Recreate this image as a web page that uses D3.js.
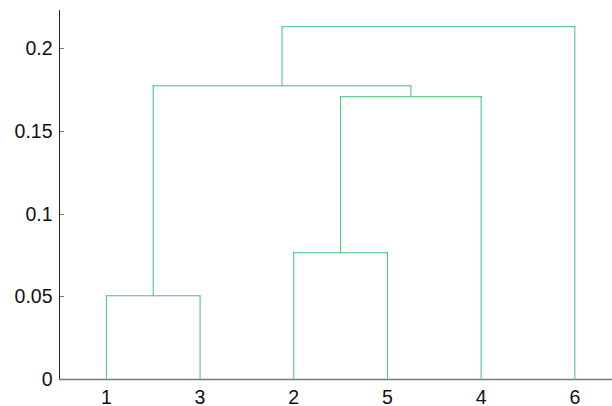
<!DOCTYPE html>
<html>
<head>
<meta charset="utf-8">
<script src="https://cdn.jsdelivr.net/npm/d3@7"></script>
<style>
  body { margin: 0; background: #fff; }
  svg { display: block; font-family: "Liberation Sans", Arial, sans-serif; }
</style>
</head>
<body>
<div id="chart"></div>
<script>
// leaf order along the x axis
const leafOrder = [1, 3, 2, 5, 4, 6];
// linkage rows: [left node, right node, height]; merged nodes are numbered 7, 8, ...
const linkLeft = [1, 2, 8, 7, 10];
const linkRight = [3, 5, 4, 9, 6];
const linkHeight = [0.0503, 0.0763, 0.1706, 0.1772, 0.2129];
const yTicks = [0, 0.05, 0.1, 0.15, 0.2];

const width = 612, height = 406;
const x0 = 59, yBase = 379, yTop = 10;

const svg = d3.select("#chart").append("svg")
    .attr("width", width)
    .attr("height", height);

const x = d3.scaleLinear().domain([0.5, leafOrder.length + 0.5]).range([x0 + 0.5, x0 + 0.5 + 6 * 93.7]);
const y = d3.scaleLinear().domain([0, 0.223]).range([yBase, yTop]);

// node positions
const nodeX = {}, nodeY = {};
leafOrder.forEach((leaf, i) => { nodeX[leaf] = x(i + 1); nodeY[leaf] = 0; });

const segs = [];
linkHeight.forEach((h, i) => {
    const a = linkLeft[i], b = linkRight[i];
    const id = leafOrder.length + 1 + i;
    segs.push([nodeX[a], nodeY[a], nodeX[a], h]);
    segs.push([nodeX[a], h, nodeX[b], h]);
    segs.push([nodeX[b], h, nodeX[b], nodeY[b]]);
    nodeX[id] = (nodeX[a] + nodeX[b]) / 2;
    nodeY[id] = h;
});

// x axis (gray line, extends past the right edge)
svg.append("line")
    .attr("x1", x0).attr("x2", width)
    .attr("y1", yBase + 0.5).attr("y2", yBase + 0.5)
    .attr("stroke", "#7a7a7a").attr("stroke-width", 1.5);

// y axis
svg.append("line")
    .attr("x1", x0 + 0.5).attr("x2", x0 + 0.5)
    .attr("y1", yTop).attr("y2", yBase)
    .attr("stroke", "#222").attr("stroke-width", 1);

svg.selectAll(".ytick")
    .data(yTicks)
    .join("line")
    .attr("class", "ytick")
    .attr("x1", x0 + 1).attr("x2", x0 + 5)
    .attr("y1", d => Math.round(y(d)) + 0.5).attr("y2", d => Math.round(y(d)) + 0.5)
    .attr("stroke", "#777");

svg.selectAll(".ylabel")
    .data(yTicks)
    .join("text")
    .attr("class", "ylabel")
    .attr("x", x0 - 6.5)
    .attr("y", d => y(d) + 7)
    .attr("text-anchor", "end")
    .attr("font-size", "19.5px")
    .attr("fill", "#111")
    .text(d => d);

svg.selectAll(".xlabel")
    .data(leafOrder)
    .join("text")
    .attr("class", "xlabel")
    .attr("x", (d, i) => x(i + 1))
    .attr("y", yBase + 24.5)
    .attr("text-anchor", "middle")
    .attr("font-size", "19.5px")
    .attr("fill", "#111")
    .text(d => d);

// dendrogram links
svg.selectAll(".link")
    .data(segs)
    .join("line")
    .attr("class", "link")
    .attr("x1", d => d[0]).attr("y1", d => y(d[1]))
    .attr("x2", d => d[2]).attr("y2", d => y(d[3]))
    .attr("stroke", "#3cc47c")
    .attr("stroke-width", 1)
    .attr("stroke-linecap", "square");
</script>
</body>
</html>
